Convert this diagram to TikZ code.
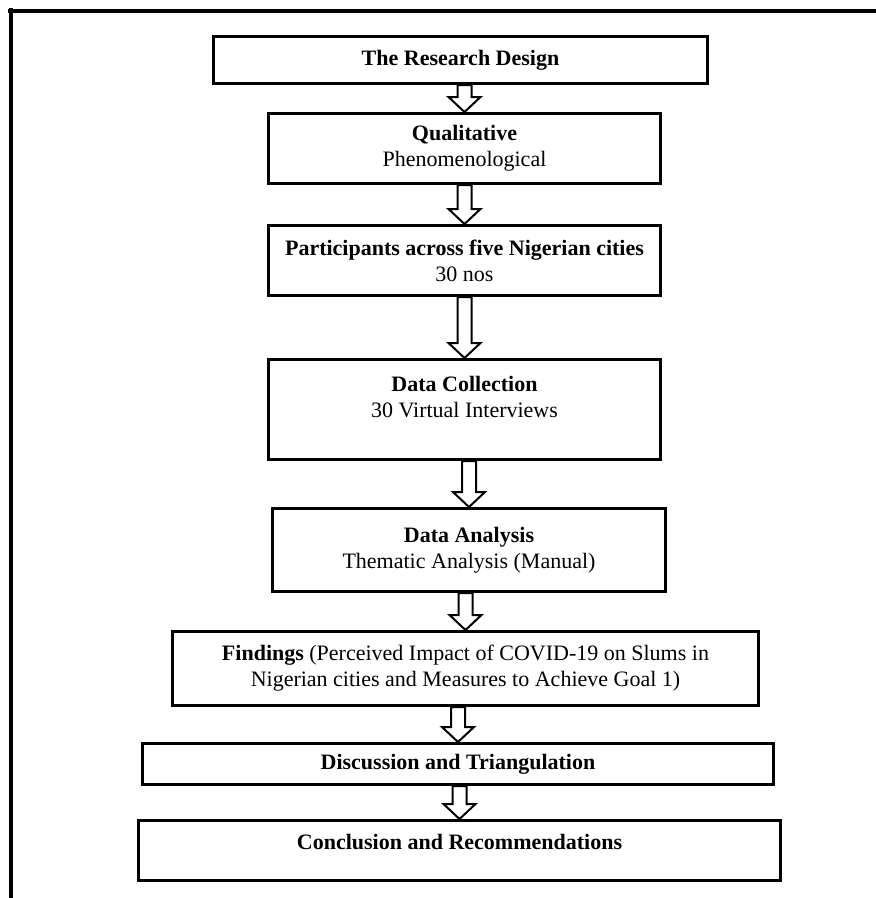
\documentclass[tikz,border=0pt]{standalone}
\usepackage{fontspec}
\setmainfont{Liberation Serif}
\usetikzlibrary{positioning}
\usetikzlibrary{calc}

\begin{document}
\begin{tikzpicture}[
        x=1pt, y=-1pt,
        stage/.style={rectangle, draw, line width=3pt, align=center, inner sep=0pt, font=\fontsize{22}{26}\selectfont},
        hollow/.style={draw, line width=2pt, fill=white, to path={let \p1=(\tikztostart), \p2=(\tikztotarget) in
            (\x2-7pt,\y1) -- (\x2+7pt,\y1) -- (\x2+7pt,\y2+15pt) -- (\x2+16pt,\y2+15pt) -- (\x2,\y2)
            -- (\x2-16pt,\y2+15pt) -- (\x2-7pt,\y2+15pt) -- cycle}}
    ]
        \useasboundingbox (0,0) rectangle (876,898);
        \draw[line width=4.5pt] (8,11) -- (876,11);
        \draw[line width=4.5pt] (11,8) -- (11,898);

        \node[stage, minimum width=494pt, minimum height=47pt] (design) at (460.5,60) {\textbf{The Research Design}};
        \node[stage, minimum width=392pt, minimum height=70pt, below=27pt of design, xshift=4pt] (qual) {\textbf{Qualitative}\\Phenomenological};
        \node[stage, minimum width=392pt, minimum height=70pt, below=39pt of qual] (part) {\textbf{Participants across five Nigerian cities}\\30 nos};
        \node[stage, minimum width=392pt, minimum height=100pt, below=61pt of part] (collect) {\textbf{Data Collection}\\30 Virtual Interviews\\\mbox{}};
        \node[stage, minimum width=393pt, minimum height=83pt, below=46pt of collect, xshift=4.5pt] (analysis) {\textbf{Data Analysis}\\Thematic Analysis (Manual)};
        \node[stage, minimum width=586pt, minimum height=74pt, below=37pt of analysis, xshift=-3.5pt] (findings) {\textbf{Findings} (Perceived Impact of COVID-19 on Slums in\\Nigerian cities and Measures to Achieve Goal 1)};
        \node[stage, minimum width=631pt, minimum height=41pt, below=35pt of findings, xshift=-7.5pt] (discuss) {\textbf{Discussion and Triangulation}};
        \node[stage, minimum width=642pt, minimum height=60pt, below=33pt of discuss, xshift=1.5pt] (concl) {\textbf{Conclusion and Recommendations}\\[-8pt]\mbox{}};

        \draw[hollow] (design.south) to (qual.north);
        \draw[hollow] (qual.south) to (part.north);
        \draw[hollow] (part.south) to (collect.north);
        \draw[hollow] (collect.south) to (analysis.north);
        \draw[hollow] (analysis.south) to (findings.north);
        \draw[hollow] (findings.south) to (discuss.north);
        \draw[hollow] (discuss.south) to (concl.north);
    \end{tikzpicture}
\end{document}
